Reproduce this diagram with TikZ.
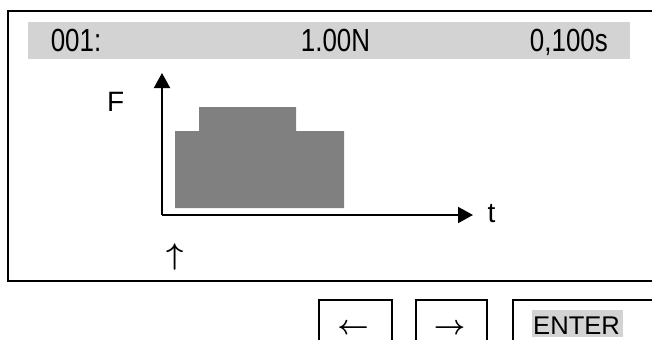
\documentclass[tikz,border=0pt]{standalone}
\usepackage{graphicx}
\usepackage{fontspec}
\setmainfont{Liberation Sans}
\newfontfamily\lcdfont[FakeStretch=0.81]{Liberation Sans}
\usepackage{tikz}
\usetikzlibrary{arrows.meta}
\definecolor{barcol}{HTML}{D3D3D3}
\definecolor{plotcol}{HTML}{808080}
\tikzset{>={Triangle[length=15pt,width=16pt]}}
\tikzstyle{frm} = [draw=black, line width=2pt]
\tikzstyle{hdr} = [draw=none, inner sep=0, font=\lcdfont\fontsize{32}{32}\selectfont]
\tikzstyle{lbl} = [draw=none, inner sep=0, font=\fontsize{28}{28}\selectfont]
\tikzstyle{btnlbl} = [draw=none, inner sep=0, font=\fontsize{24.88}{25}\selectfont\boldmath]
\begin{document}
\begin{tikzpicture}[x=1pt, y=-1pt]
\useasboundingbox (0,0) rectangle (652,340);
% display
\draw [frm] (652,11) -- (7.5,11) -- (7.5,281) -- (652,281);
\fill [barcol] (28,22) rectangle (630,58.5);
\node [hdr, anchor=base west] (nr) at (50.6,51.5) {001:};
\node [hdr, anchor=base east] (force) at (370.3,51.5) {1.00N};
\node [hdr, anchor=base east] (time) at (608,51.5) {0,100s};
% force profile
\fill [plotcol] (175,208) -- (175,131) -- (199,131) -- (199,107) -- (296,107) -- (296,131) -- (344,131) -- (344,208) -- cycle;
\coordinate (O) at (162,215);
\coordinate (Fend) at (162,73);
\coordinate (tend) at (473,215);
\draw [->, line width=2pt] (O) to (Fend);
\draw [->, line width=2pt] (O) to (tend);
\node [lbl, anchor=base west] (F) at (107,111.7) {F};
\node [lbl, anchor=base west] (t) at (487.5,222.7) {t};
\node [btnlbl] (cursor) at (175.3,256.7) {\scalebox{1.2}{$\uparrow$}};
% keys
\draw [frm] (319.3,340) -- (319.3,300) -- (391.7,300) -- (391.7,340);
\draw [frm] (415.7,340) -- (415.7,300) -- (487,300) -- (487,340);
\draw [frm] (512.5,340) -- (512.5,300) -- (652,300);
\node [btnlbl] (left) at (353,329) {\scalebox{1.1}{$\leftarrow$}};
\node [btnlbl] (right) at (449.5,329.5) {\scalebox{1.1}{$\rightarrow$}};
\fill [barcol] (531.7,310) rectangle (623.3,337);
\node [btnlbl, font=\fontsize{25.6}{25.6}\selectfont, anchor=base west] (enter) at (533,334) {ENTER};
\end{tikzpicture}
\end{document}
